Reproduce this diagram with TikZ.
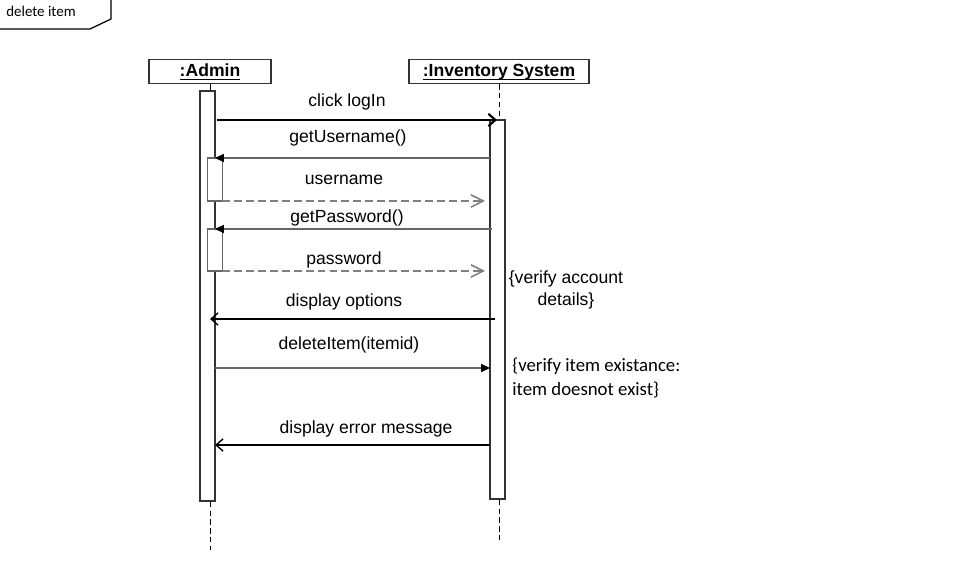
\documentclass[tikz,border=0pt]{standalone}
\usepackage{fontspec}
\setmainfont{Liberation Sans}
\newfontfamily\notefont{Carlito}
\usetikzlibrary{arrows.meta,positioning}
\newcommand\ulabel[1]{\setbox0\hbox{#1}\rlap{\rule[-1.9pt]{\wd0}{.7pt}}\box0}

\begin{document}
\begin{tikzpicture}[x=.02cm,y=-.02cm,every node/.style={font=\fontsize{10}{12}\selectfont},
  head/.style={draw=black!80,line width=1pt,inner sep=0pt,minimum height=.48cm,text height=9pt,text depth=2.8pt},
  act/.style={draw=black!80,line width=1.1pt,fill=white,inner sep=0pt,minimum width=.3cm},
  subact/.style={act,draw=black!60},
  life/.style={dash pattern=on 3pt off 2pt,line width=.5pt},
  call/.style={draw=black!60,line width=.9pt,-{Triangle[length=5pt,width=4.5pt,color=black]}},
  reply/.style={draw=black!50,line width=.9pt,dash pattern=on 4.5pt off 2.3pt,-{Straight Barb[length=7pt,width=7pt]}},
  back/.style={line width=.8pt,-{Straight Barb[length=4pt,width=7pt]}},
  msg/.style={inner sep=0pt},
  note/.style={font=\notefont\fontsize{10.7}{13.5}\selectfont,inner sep=0pt}]
\useasboundingbox(0,0)rectangle(958,570);
\draw[line width=.7pt](0,29)--(90,29)--(111,19)--(111,0);
\node(frame)at(41,11){\notefont\fontsize{8.5}{10}\selectfont delete item};
\node[head,minimum width=2.44cm](admin)at(210,71.5){\ulabel{\textbf{:Admin}}};
\node[head,minimum width=3.6cm](inv)at(499,71.5){\ulabel{\textbf{:Inventory System}}};
\coordinate(endA)at(210,550);\coordinate(endI)at(499,540);
\draw[life](admin.south)--++(0,9);\draw[life](inv.south)--++(0,37);
\node[act,minimum height=8.2cm](actA)at(207.5,296){};
\node[act,minimum height=7.58cm](actI)at(497.5,309.5){};
\draw[life](endA|-actA.south)--(endA);\draw[life](endI|-actI.south)--(endI);
\node[subact,minimum height=.86cm](actU)at(215,179.5){};
\node[subact,minimum height=.84cm](actP)at(215,250){};
\coordinate(a1)at(217,120);\coordinate(i1)at(497,120);
\coordinate(i2)at(490,158);\coordinate(a2)at(215,158);
\coordinate(a3)at(222,201);\coordinate(i3)at(485,201);
\coordinate(i4)at(492,229);\coordinate(a4)at(215,229);
\coordinate(a5)at(222,271);\coordinate(i5)at(485,271);
\coordinate(i6)at(495,319);\coordinate(a6)at(210,319);
\coordinate(a7)at(215,368);\coordinate(i7)at(490,368);
\coordinate(i8)at(490,445);\coordinate(a8)at(215,445);
\draw[line width=1.2pt,-{Straight Barb[length=4pt,width=7pt]}](a1)--(i1);
\draw[call](i2)--(a2);\draw[reply](a3)--(i3);
\draw[call](i4)--(a4);\draw[reply](a5)--(i5);
\draw[back](i6)--(a6);\draw[call](a7)--(i7);\draw[back](i8)--(a8);
\node[msg](l1)at(347,102){click logIn};
\node[msg](l2)at(348,138){getUsername()};
\node[msg](l3)at(344,180){username};
\node[msg](l4)at(347,218){getPassword()};
\node[msg](l5)at(344,260){password};
\node[msg](l6)at(344,302){display options};
\node[msg](l7)at(349,345){deleteItem(itemid)};
\node[msg](l8)at(366,429){display error message};
\node[msg,align=center](n1)at(566,290){\{verify account\\details\}};
\node[note,align=left,anchor=west](n2)at(512,378){\{verify item existance:\\item doesnot exist\}};
\end{tikzpicture}
\end{document}
